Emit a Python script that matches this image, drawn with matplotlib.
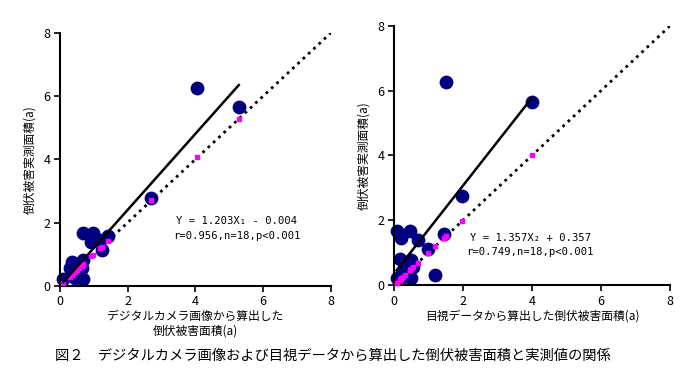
import numpy as np
import matplotlib
matplotlib.use("Agg")
import matplotlib.pyplot as plt

plt.rcParams['font.family'] = ['Noto Sans CJK JP', 'DejaVu Sans']

# measured lodging area (a)
measured = [6.27, 5.65, 2.76, 1.68, 1.67, 1.57, 1.46, 1.38, 1.12,
            0.81, 0.76, 0.57, 0.55, 0.40, 0.30, 0.23, 0.22, 0.20]
# estimated from digital camera images (a)
camera = [4.06, 5.28, 2.70, 0.69, 0.98, 1.43, 1.18, 0.93, 1.23,
          0.69, 0.34, 0.29, 0.64, 0.55, 0.50, 0.44, 0.69, 0.10]
# estimated from visual survey data (a)
visual = [1.50, 4.00, 1.97, 0.07, 0.45, 1.45, 0.19, 0.68, 0.99,
          0.16, 0.48, 0.31, 0.55, 0.26, 1.20, 0.48, 0.07, 0.20]

fits = [(1.203, -0.004), (1.357, 0.357)]
eq_text = ["Y = 1.203X\u2081 - 0.004\nr=0.956,n=18,p<0.001",
           "Y = 1.357X\u2082 + 0.357\nr=0.749,n=18,p<0.001"]
xlabels = ["デジタルカメラ画像から算出した\n倒伏被害面積(a)",
           "目視データから算出した倒伏被害面積(a)"]
ylabel = "倒伏被害実測面積(a)"
caption = "図２　デジタルカメラ画像および目視データから算出した倒伏被害面積と実測値の関係"
ticks = [0, 2, 4, 6, 8]

fig = plt.figure(figsize=(7, 3.82), dpi=100)
ax1 = fig.add_axes([0.0857, 0.252, 0.387, 0.662])
ax2 = fig.add_axes([0.563, 0.254, 0.394, 0.678])

text_pos = [(0.653, 0.226), (0.493, 0.154)]

for i, (ax, xs) in enumerate([(ax1, camera), (ax2, visual)]):
    xs = np.array(xs)
    ys = np.array(measured)
    ax.plot([0, 8], [0, 8], color='black', linestyle=(0, (1, 1.6)), lw=2, zorder=1)
    ax.scatter(xs, ys, s=80, color='#000080', zorder=2, clip_on=False)
    ax.scatter(xs, xs, s=8, marker='s', color='#ff00ff', zorder=3, clip_on=False)
    a, b = fits[i]
    lx = np.array([xs.min(), xs.max()])
    ax.plot(lx, a * lx + b, color='black', lw=1.8, zorder=4)
    ax.set_xlim(0, 8)
    ax.set_ylim(0, 8)
    ax.set_xticks(ticks)
    ax.set_yticks(ticks)
    ax.spines['top'].set_visible(False)
    ax.spines['right'].set_visible(False)
    ax.spines['left'].set_linewidth(1.5)
    ax.spines['bottom'].set_linewidth(1.5)
    ax.tick_params(direction='out', length=4, width=1.2, labelsize=9, pad=3)
    ax.set_ylabel(ylabel, fontsize=8.5, labelpad=5)
    ax.set_xlabel(xlabels[i], fontsize=8.5, labelpad=1, linespacing=1.2)
    ax.text(*text_pos[i], eq_text[i], transform=ax.transAxes, ha='center',
            va='center', fontsize=7.6, linespacing=1.6,
            family=['DejaVu Sans Mono', 'Noto Sans CJK JP'])

fig.text(0.078, 0.07, caption, fontsize=10.3, ha='left', va='center')

plt.savefig("out.png", dpi=100)
